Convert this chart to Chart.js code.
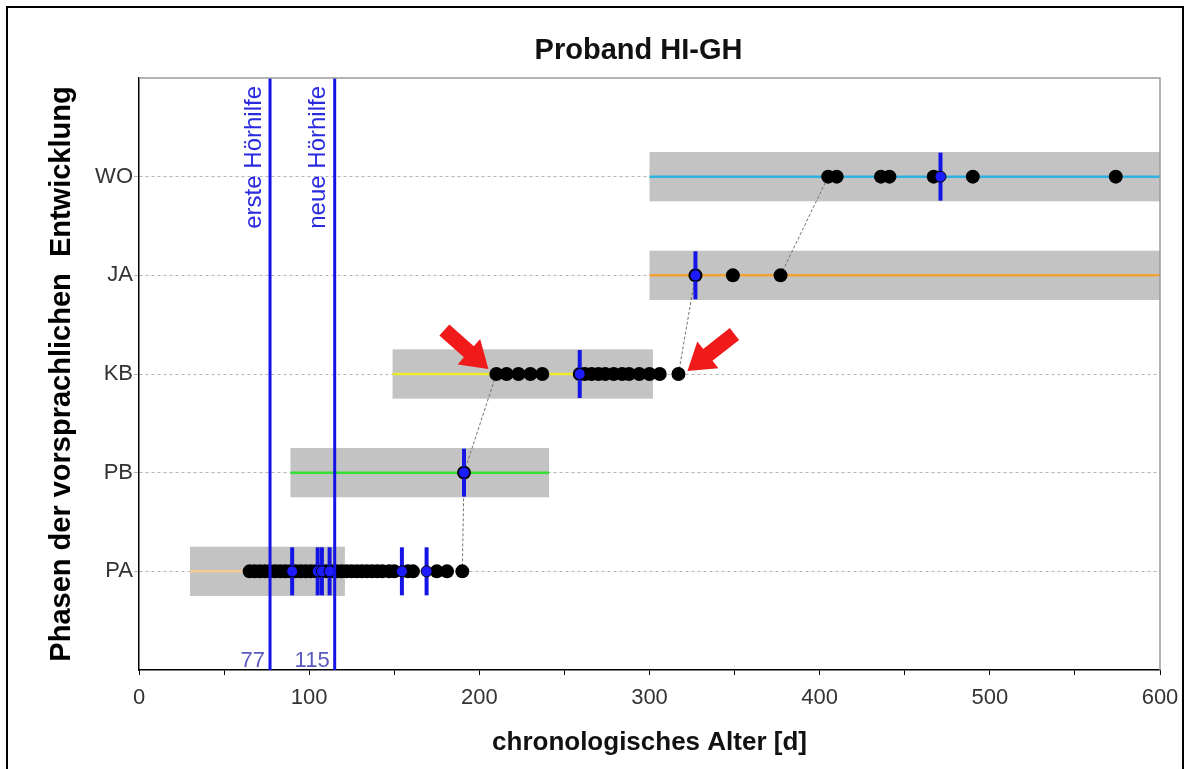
<!DOCTYPE html>
<html>
<head>
<meta charset="utf-8">
<script src="https://cdn.jsdelivr.net/npm/chart.js@4.4.0/dist/chart.umd.min.js"></script>
<style>
  html, body { margin: 0; padding: 0; background: #fff; overflow: hidden; }
  #wrap { position: relative; width: 1190px; height: 769px; }
  #frame { position: absolute; left: 6px; top: 6px; width: 1174px; height: 800px; border: 2px solid #000; pointer-events: none; }
</style>
</head>
<body>
<div id="wrap">
  <canvas id="phase-chart" width="1190" height="769"></canvas>
  <div id="frame"></div>
</div>
<script>
// Phasen der vorsprachlichen Entwicklung (y = 1..5)
const phases = ['PA', 'PB', 'KB', 'JA', 'WO'];

// Altersbereich je Phase (grauer Balken), in Tagen
const phaseStart = [30, 89, 149, 300, 300];
const phaseEnd = [121, 241, 302, 600, 600];

// beobachtete Termine (chronologisches Alter in Tagen)
const agesPA = [65, 68, 71, 74, 77, 80, 83, 86, 89, 92, 95, 98, 101, 104, 107, 110, 113, 116, 119,
                122, 125, 128, 131, 134, 137, 140, 143, 147, 150, 158, 161, 175, 181, 190];
const agesPB = [191];
const agesKB = [210, 216, 223, 230, 237, 259, 262, 266, 270, 274, 279, 284, 288, 294, 300, 306, 317];
const agesJA = [327, 349, 377];
const agesWO = [405, 410, 436, 441, 467, 490, 574];

// blau markierte Termine
const marksPA = [90, 105, 107.5, 112, 154.5, 169];
const marksPB = [191];
const marksKB = [259];
const marksJA = [327];
const marksWO = [471];

// Hörhilfen
const aidDays = [77, 115];
const aidNames = ['erste Hörhilfe', 'neue Hörhilfe'];

const xTicks = [0, 100, 200, 300, 400, 500, 600];
const chartTitle = 'Proband HI-GH';

const phaseLineColors = ['#f6c994', '#35e035', '#ecec2c', '#f2a232', '#2eb2e2'];
const BLUE = '#1414e6';
const FONT = "'Liberation Sans', Arial, sans-serif";

const ages = [agesPA, agesPB, agesKB, agesJA, agesWO];
const marks = [marksPA, marksPB, marksKB, marksJA, marksWO];

const toPoints = (lists) => lists.flatMap((list, i) => list.map(x => ({ x: x, y: i + 1 })));

const datasets = [];

// Hörhilfe-Linien (ganz oben)
aidDays.forEach(d => {
  datasets.push({
    type: 'line',
    data: [{ x: d, y: 0 }, { x: d, y: 6 }],
    borderColor: BLUE,
    borderWidth: 3,
    pointRadius: 0,
    order: 0,
  });
});

// blaue Punkte
datasets.push({
  type: 'scatter',
  data: toPoints(marks),
  pointRadius: 5.5,
  backgroundColor: '#1c1cff',
  borderColor: '#000',
  borderWidth: 1,
  order: 1,
});

// blaue Striche
datasets.push({
  type: 'scatter',
  data: toPoints(marks),
  pointStyle: 'line',
  rotation: 90,
  pointRadius: 24,
  borderColor: BLUE,
  borderWidth: 4,
  order: 2,
});

// schwarze Punkte
datasets.push({
  type: 'scatter',
  data: toPoints(ages),
  pointRadius: 7,
  backgroundColor: '#000',
  borderWidth: 0,
  order: 3,
});

// gestrichelte Verbindungen zwischen den Phasen
for (let i = 0; i < ages.length - 1; i++) {
  datasets.push({
    type: 'line',
    data: [{ x: ages[i][ages[i].length - 1], y: i + 1 }, { x: ages[i + 1][0], y: i + 2 }],
    borderColor: '#707070',
    borderWidth: 1,
    borderDash: [3, 2],
    pointRadius: 0,
    order: 4,
  });
}

// farbige Linie je Phase
phases.forEach((p, i) => {
  datasets.push({
    type: 'line',
    data: [{ x: phaseStart[i], y: i + 1 }, { x: phaseEnd[i], y: i + 1 }],
    borderColor: phaseLineColors[i],
    borderWidth: 2.5,
    pointRadius: 0,
    order: 5,
  });
});

// graue Balken unter den Daten
const boxPlugin = {
  id: 'phaseBoxes',
  beforeDatasetsDraw(chart) {
    const { ctx, scales: { x, y } } = chart;
    ctx.save();
    ctx.fillStyle = '#c3c3c3';
    phases.forEach((p, i) => {
      const x1 = x.getPixelForValue(phaseStart[i]);
      const x2 = x.getPixelForValue(phaseEnd[i]);
      const y1 = y.getPixelForValue(i + 1.25);
      const y2 = y.getPixelForValue(i + 0.75);
      ctx.fillRect(x1, y1, x2 - x1, y2 - y1);
    });
    ctx.restore();
  }
};

function drawArrow(ctx, tx, ty, fx, fy) {
  const ang = Math.atan2(ty - fy, tx - fx);
  const len = Math.hypot(tx - fx, ty - fy);
  const head = 26, shaft = 7.5, wing = 17;
  ctx.save();
  ctx.translate(fx, fy);
  ctx.rotate(ang);
  ctx.beginPath();
  ctx.moveTo(0, -shaft);
  ctx.lineTo(len - head, -shaft);
  ctx.lineTo(len - head, -wing);
  ctx.lineTo(len, 0);
  ctx.lineTo(len - head, wing);
  ctx.lineTo(len - head, shaft);
  ctx.lineTo(0, shaft);
  ctx.closePath();
  ctx.fill();
  ctx.restore();
}

// Titel, Beschriftungen, Rahmen und Pfeile
const overlayPlugin = {
  id: 'overlay',
  afterDatasetsDraw(chart) {
    const { ctx, chartArea: a, scales: { x, y } } = chart;
    ctx.save();

    // Titel über dem Diagrammbereich
    ctx.font = 'bold 29px ' + FONT;
    ctx.fillStyle = '#111';
    ctx.textAlign = 'center';
    ctx.textBaseline = 'middle';
    ctx.fillText(chartTitle, (a.left + a.right) / 2 - 11, a.top - 27);

    // Rahmen oben / rechts
    ctx.strokeStyle = '#9c9c9c';
    ctx.lineWidth = 1.5;
    ctx.beginPath();
    ctx.moveTo(a.left, a.top);
    ctx.lineTo(a.right, a.top);
    ctx.lineTo(a.right, a.bottom);
    ctx.stroke();

    // Hörhilfen: Name senkrecht oben, Tag unten
    aidDays.forEach((d, i) => {
      const px = x.getPixelForValue(d);
      ctx.save();
      ctx.translate(px - 16, a.top + 8);
      ctx.rotate(-Math.PI / 2);
      ctx.font = '24px ' + FONT;
      ctx.fillStyle = '#2a2ae0';
      ctx.textAlign = 'right';
      ctx.textBaseline = 'middle';
      ctx.fillText(aidNames[i], 0, 0);
      ctx.restore();

      ctx.font = '22px ' + FONT;
      ctx.fillStyle = '#5a5abf';
      ctx.textAlign = 'right';
      ctx.textBaseline = 'alphabetic';
      ctx.fillText(String(d), px - 5, a.bottom - 3);
    });

    // rote Pfeile auf ersten und letzten KB-Termin
    const kb = phases.indexOf('KB');
    const ky = y.getPixelForValue(kb + 1);
    const first = x.getPixelForValue(ages[kb][0]);
    const last = x.getPixelForValue(ages[kb][ages[kb].length - 1]);
    ctx.fillStyle = '#f01a1a';
    drawArrow(ctx, first - 8, ky - 5, first - 52, ky - 44);
    drawArrow(ctx, last + 9, ky - 3, last + 56, ky - 40);

    ctx.restore();
  }
};

new Chart(document.getElementById('phase-chart').getContext('2d'), {
  type: 'scatter',
  data: { datasets: datasets },
  plugins: [boxPlugin, overlayPlugin],
  options: {
    responsive: false,
    animation: false,
    events: [],
    layout: { padding: { left: 44, right: 30, top: 78, bottom: 8 } },
    plugins: {
      legend: { display: false },
      tooltip: { enabled: false },
      title: { display: false },
    },
    scales: {
      x: {
        type: 'linear',
        min: 0,
        max: 600,
        afterFit: (s) => { s.height = 91; },
        ticks: {
          stepSize: 50,
          autoSkip: false,
          maxRotation: 0,
          padding: 10,
          color: '#333',
          font: { family: FONT, size: 22 },
          callback: (v) => xTicks.includes(v) ? String(v) : '',
        },
        grid: { drawOnChartArea: false, drawTicks: true, tickLength: 5, color: '#000' },
        border: { display: true, color: '#000', width: 1.5 },
        title: {
          display: true,
          text: 'chronologisches Alter [d]',
          color: '#111',
          font: { family: FONT, size: 26, weight: 'bold', lineHeight: 1.2 },
          padding: { top: 0, bottom: 3 },
        },
      },
      y: {
        type: 'linear',
        min: 0,
        max: 6,
        afterFit: (s) => { s.width = 95; },
        ticks: {
          stepSize: 1,
          autoSkip: false,
          padding: 1,
          color: '#333',
          font: { family: FONT, size: 22 },
          callback: (v) => (Number.isInteger(v) && v >= 1 && v <= phases.length) ? phases[v - 1] : '',
        },
        grid: {
          color: (c) => (c.tick && c.tick.value >= 1 && c.tick.value <= phases.length) ? '#b4b4b4' : 'rgba(0,0,0,0)',
          lineWidth: 1,
          tickLength: 5,
        },
        border: { display: true, color: '#000', width: 1.5, dash: [3, 3] },
        title: {
          display: true,
          text: 'Phasen der vorsprachlichen  Entwicklung',
          color: '#000',
          font: { family: FONT, size: 29, weight: 'bold', lineHeight: 1.2 },
          padding: { top: 1, bottom: 0 },
        },
      },
    },
  },
});
</script>
</body>
</html>
